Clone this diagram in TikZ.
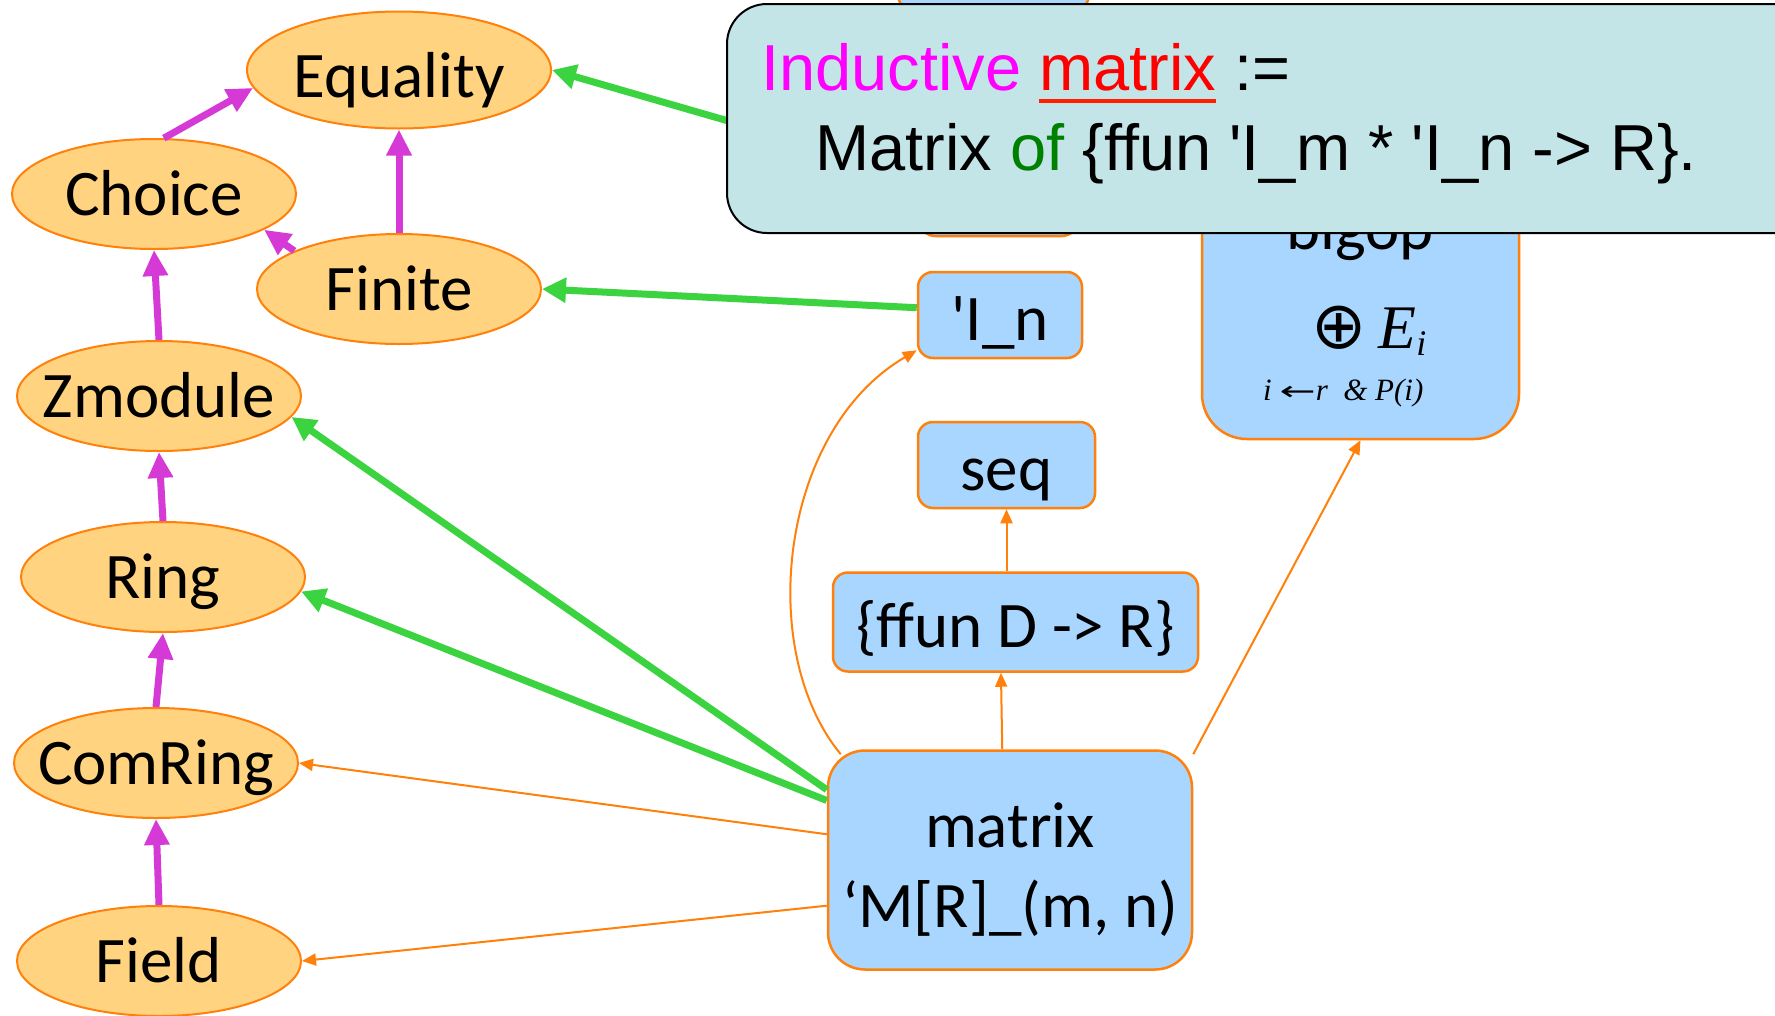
\documentclass[tikz,border=0pt]{standalone}
\usepackage{fontspec}
\usepackage{tikz}
\usetikzlibrary{shapes.geometric, arrows.meta, calc}

\newfontfamily\calfont{Carlito}
\newfontfamily\arialfont{Liberation Sans}
\newfontfamily\timesfont{Liberation Serif}
\newfontfamily\dejafont{DejaVu Sans}

\definecolor{orline}{RGB}{255,128,10}
\definecolor{clsfill}{RGB}{255,211,127}
\definecolor{typfill}{RGB}{169,214,255}
\definecolor{grnarr}{RGB}{60,211,64}
\definecolor{magarr}{RGB}{214,58,214}
\definecolor{callfill}{RGB}{196,229,232}
\definecolor{txtmag}{RGB}{255,0,255}
\definecolor{ofgreen}{RGB}{0,128,0}
\definecolor{ulred}{RGB}{255,32,0}

% sublinhado grosso
\newcommand\redul[1]{\setbox0\hbox{#1}\rlap{\color{ulred}\rule[-13pt]{\wd0}{4.5pt}}\box0}

\tikzset{
    cls/.style={ellipse, draw=orline, fill=clsfill, line width=2pt,
        minimum width=284pt, minimum height=110pt, inner xsep=-25pt, inner ysep=0pt,
        text height=50pt, text depth=8pt, font=\calfont\fontsize{65}{78}\selectfont},
    typ/.style={rectangle, rounded corners=15pt, draw=orline, fill=typfill, line width=2.5pt,
        inner sep=0pt, text height=58pt, text depth=8pt, font=\calfont\fontsize{65}{78}\selectfont},
    callout/.style={rectangle, rounded corners=40pt, draw=black, fill=callfill, line width=2pt},
    calltext/.style={inner sep=0pt, anchor=base west, font=\arialfont\fontsize{65}{78}\selectfont},
    oarr/.style={-{Triangle[length=14pt,width=12pt]}, color=orline, line width=2pt},
    marr/.style={-{Triangle[length=26pt,width=24pt]}, color=magarr, line width=7pt},
    garr/.style={-{Triangle[length=24pt,width=24pt]}, color=grnarr, line width=7pt},
}

\begin{document}
\begin{tikzpicture}[x=1pt, y=-1pt]
    \useasboundingbox (0,0) rectangle (1775,1015);
    \clip (0,0) rectangle (1775,1015);

    % estruturas
    \node[cls, minimum width=304pt, minimum height=117pt, text height=62pt] (eq) at (399,70) {Equality};
    \node[cls] (ch) at (154,194) {Choice};
    \node[cls] (fin) at (399,289) {Finite};
    \node[cls] (zm) at (159,396) {Zmodule};
    \node[cls] (ring) at (163,577) {Ring};
    \node[cls] (com) at (156,763) {ComRing};
    \node[cls] (fld) at (159,961) {Field};

    % tipos
    \node[typ, minimum width=191pt, minimum height=100pt] (tbox) at (993.5,-40) {};
    \node[typ, minimum width=157pt, minimum height=86pt] (im) at (998.5,193) {};
    \node[typ, minimum width=164pt, minimum height=86pt] (In) at (1000,315) {\textquotesingle I\_n};
    \node[typ, minimum width=177pt, minimum height=86pt] (seq) at (1006.5,465) {seq};
    \node[typ, minimum width=365pt, minimum height=99pt] (ff) at (1015.5,622) {\{ffun D -> R\}};
    \node[typ, rounded corners=37pt, minimum width=364pt, minimum height=219pt, align=center,
        text height=140pt, text depth=6pt, font=\calfont\fontsize{65}{80}\selectfont]
        (mat) at (1010,860) {matrix\\‘M[R]\_(m, n)};
    \node[typ, rounded corners=45pt, minimum width=317pt, minimum height=310pt] (bo) at (1360.5,284) {};
    \node[inner sep=0pt, anchor=base, font=\calfont\fontsize{65}{78}\selectfont] (botxt) at (1360,249) {bigop};
    \node[inner sep=0pt, anchor=base west] (opsum) at (1311,348)
        {{\dejafont\fontsize{66}{70}\selectfont ⊕}\hspace{12pt}{\timesfont\itshape\fontsize{62}{70}\selectfont E\raisebox{-7pt}{\fontsize{36}{40}\selectfont i}}};
    \node[inner sep=0pt, anchor=base west, font=\timesfont\itshape\fontsize{31}{36}\selectfont] (opidx) at (1263,400)
        {i {\dejafont\fontsize{27}{30}\selectfont\scalebox{1.6}[1]{←}}r \ \& P(i)};

    % heranca
    \draw[marr] (ch.80) -- (eq.187);
    \draw[marr] (fin.north) -- (eq.south);
    \draw[marr] (fin.160) -- (ch.-18);
    \draw[marr] (zm.north) -- (ch.south);
    \draw[marr] (ring.north) -- (zm.south);
    \draw[marr] (com.north) -- (ring.south);
    \draw[marr] (fld.north) -- (com.south);

    % instancias
    \draw[garr] (im.168) -- (eq.east);
    \draw[garr] (In.175) -- (fin.east);
    \draw[garr] (mat.159) -- (zm.-9);
    \draw[garr] (mat.162) -- (ring.-6);

    \draw[oarr] (mat.172) -- (com.east);
    \draw[oarr] (mat.194) -- (fld.east);
    \draw[oarr] ($(mat.north west)+(14,5)$) .. controls (755,650) and (780,430) .. (In.203);
    \draw[oarr] (mat.94) -- (ff.-106);
    \draw[oarr] (ff.north -| seq.south) -- (seq.south);
    \draw[oarr] (mat.30) -- (bo.south);

    % definicao
    \node[callout, anchor=north west, minimum width=1150pt, minimum height=229pt] (ind) at (726,3) {};
    \node[calltext] (indl1) at (761,90)
        {{\color{txtmag}Inductive} {\color{red}\redul{matrix}} :=};
    \node[calltext] (indl2) at (815,170)
        {Matrix {\color{ofgreen}of} \{ffun \textquotesingle I\_m * \textquotesingle I\_n -> R\}.};

\end{tikzpicture}
\end{document}
